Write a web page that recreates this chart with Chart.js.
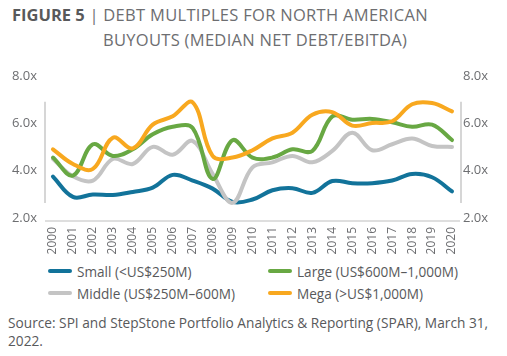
<!DOCTYPE html>
<html><head><meta charset="utf-8">
<script src="https://cdn.jsdelivr.net/npm/chart.js@4/dist/chart.umd.min.js"></script>
<style>
html,body{margin:0;padding:0;background:#fff;width:507px;height:356px;overflow:hidden;font-family:"Open Sans",sans-serif;}
.t{position:absolute;white-space:nowrap;font-size:16.5px;line-height:16.5px;letter-spacing:0.3px;color:#6d6e71;}
.t b{color:#58595b;font-weight:700;letter-spacing:0;}
#wrap{position:absolute;left:0;top:60px;width:507px;height:198px;}
.lg{position:absolute;height:16px;display:flex;align-items:center;font-size:13.6px;color:#58595b;white-space:nowrap;}
.sw{width:24px;height:4px;border-radius:2px;margin-right:5px;}
.src{position:absolute;left:8px;font-size:13.7px;line-height:18px;color:#58595b;white-space:nowrap;}
</style></head>
<body>
<div class="t" style="left:12px;top:7px;"><b>FIGURE 5</b> | DEBT MULTIPLES FOR NORTH AMERICAN</div>
<div class="t" style="left:103px;top:32px;">BUYOUTS (MEDIAN NET DEBT/EBITDA)</div>
<div id="wrap"><canvas id="c" width="507" height="198"></canvas></div>
<div id="legend"></div>
<div class="src" style="top:313.5px;">Source: SPI and StepStone Portfolio Analytics &amp; Reporting (SPAR), March 31,<br>2022.</div>
<script>
const years = ["2000","2001","2002","2003","2004","2005","2006","2007","2008","2009","2010","2011","2012","2013","2014","2015","2016","2017","2018","2019","2020"];
const yTicks = [2, 4, 6, 8];
const small  = [3.75,2.89,2.99,2.97,3.10,3.28,3.82,3.58,3.24,2.68,2.78,3.17,3.26,3.06,3.56,3.47,3.47,3.58,3.86,3.72,3.12];
const large  = [4.55,3.79,5.11,4.62,4.90,5.53,5.85,5.80,3.65,5.28,4.55,4.55,4.90,4.83,6.29,6.15,6.18,6.04,5.85,5.94,5.29];
const middle = [4.49,3.76,3.58,4.49,4.28,5.00,4.67,5.25,3.86,2.64,4.14,4.35,4.62,4.35,4.83,5.60,4.86,5.11,5.35,5.04,5.00];
const mega   = [4.90,4.28,4.07,5.39,4.94,5.94,6.29,6.88,4.62,4.55,4.86,5.36,5.60,6.36,6.47,5.90,6.01,6.08,6.80,6.85,6.50];
const seriesNames = ["Small (<US$250M)","Large (US$600M\u20131,000M)","Middle (US$250M\u2013600M)","Mega (>US$1,000M)"];
const seriesColors = ["#12739a","#68a843","#c4c4c4","#f8a81f"];
const seriesData = [small, large, middle, mega];
const drawOrder = [3, 1, 2, 0];

// legend (HTML)
const legPos = [[48,263],[268,263],[48,285],[268,285]];
const legend = document.getElementById('legend');
seriesNames.forEach((n,i)=>{
  const d=document.createElement('div'); d.className='lg';
  d.style.left=legPos[i][0]+'px'; d.style.top=legPos[i][1]+'px';
  const s=document.createElement('div'); s.className='sw'; s.style.background=seriesColors[i];
  const t=document.createElement('span'); t.textContent=n;
  d.appendChild(s); d.appendChild(t); legend.appendChild(d);
});

const axisDeco = {id:'axisDeco', beforeDatasetsDraw(chart){
  const {ctx, chartArea, scales} = chart;
  const y1 = scales.y.getPixelForValue(6.9), y2 = scales.y.getPixelForValue(2.63);
  ctx.save(); ctx.strokeStyle='#c9c9c9'; ctx.lineWidth=1.5;
  [chartArea.left, chartArea.right+1].forEach(x=>{ctx.beginPath();ctx.moveTo(x,y1);ctx.lineTo(x,y2);ctx.stroke();});
  // baseline of the plot
  ctx.strokeStyle='#bdbdbd'; ctx.lineWidth=1.2;
  const yb = chartArea.bottom + 3;
  ctx.beginPath(); ctx.moveTo(chartArea.left, yb); ctx.lineTo(chartArea.right, yb); ctx.stroke();
  ctx.restore();
}};

const tickFont = {family:'"Open Sans", sans-serif', size:13};
const yCommon = {
  min:2, max:8,
  grid:{display:false, drawTicks:false},
  border:{display:false},
  afterBuildTicks(s){ s.ticks = yTicks.map(v=>({value:v})); },
};
new Chart(document.getElementById('c'), {
  type:'line',
  data:{datasets: seriesData.map((arr,i)=>({
    label: seriesNames[i],
    data: arr.map((v,k)=>({x:k, y:v})),
    borderColor: seriesColors[i],
    backgroundColor: seriesColors[i],
    borderWidth: 4,
    pointRadius: 0,
    tension: 0.38,
    borderCapStyle: 'round',
    borderJoinStyle: 'round',
    fill: false,
    clip: false,
    order: drawOrder[i],
  }))},
  options:{
    responsive:false, animation:false, devicePixelRatio:1,
    layout:{padding:{top:14, left:0, right:0, bottom:0}},
    plugins:{legend:{display:false}, tooltip:{enabled:false}},
    scales:{
      x:{type:'linear', min:-0.4, max:20.4,
        grid:{display:false, drawTicks:false},
        border:{display:false},
        ticks:{stepSize:1, autoSkip:false, includeBounds:false, maxRotation:90, minRotation:90, padding:9,
          color:'#6d6e71', font:{family:'"Open Sans", sans-serif', size:12},
          callback:(v)=> Number.isInteger(v) ? years[v] : null},
        afterFit(s){ s.height = 40; }
      },
      y:Object.assign({}, yCommon, {position:'left',
        ticks:{color:'#6d6e71', font:tickFont, padding:8, callback:v=>v.toFixed(1)+'x'},
        afterFit(s){ s.width = 45; }}),
      y2:Object.assign({}, yCommon, {position:'right',
        ticks:{color:'#6d6e71', font:tickFont, padding:3, callback:v=>v.toFixed(1)+'x'},
        afterFit(s){ s.width = 47; }}),
    }
  },
  plugins:[axisDeco]
});
</script>
</body></html>
